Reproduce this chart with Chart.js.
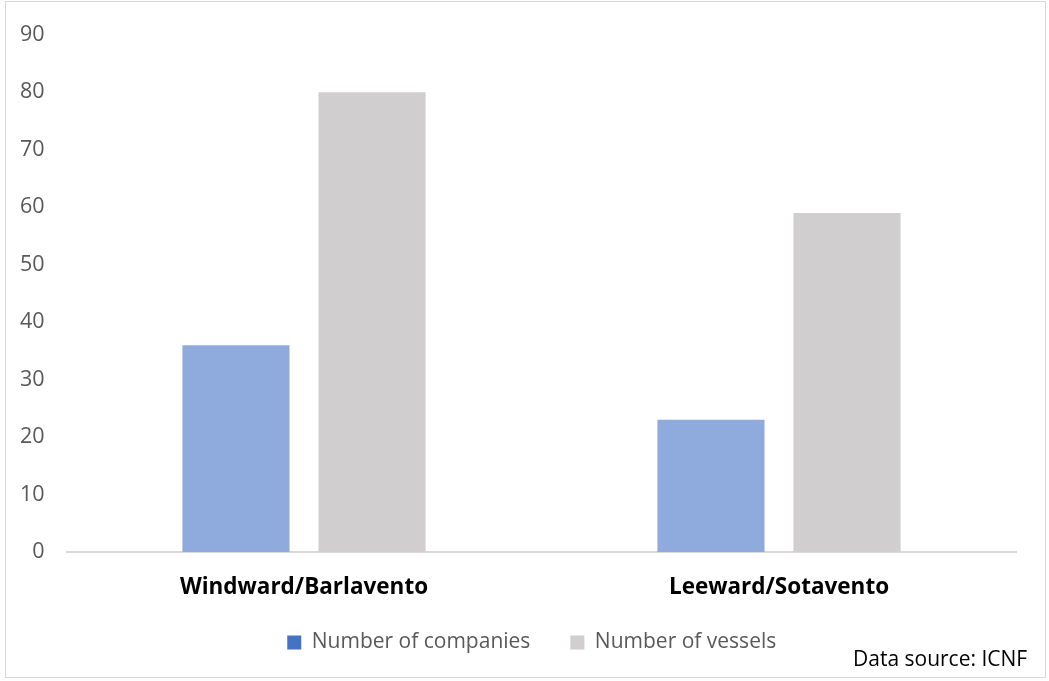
<!DOCTYPE html>
<html>
<head>
<meta charset="utf-8">
<script src="https://cdn.jsdelivr.net/npm/chart.js@4.4.0/dist/chart.umd.min.js"></script>
<style>
    html, body { margin: 0; padding: 0; background: #fff; }
    #wrap { position: relative; width: 1049px; height: 681px; }
    #frame {
        position: absolute; left: 5px; top: 1px; width: 1039px; height: 675px;
        border: 1px solid #d9d9d9; pointer-events: none;
    }
    #source {
        position: absolute; left: 853px; top: 644px;
        font-family: "Open Sans", sans-serif; font-size: 21px; color: #000;
        white-space: nowrap;
    }
</style>
</head>
<body>
<div id="wrap">
    <canvas id="chart" width="1049" height="681"></canvas>
    <div id="frame"></div>
    <div id="source">Data source: ICNF</div>
</div>
<script>
// Chart data
const regions = ['Windward/Barlavento', 'Leeward/Sotavento'];
const companies = [36, 23];
const vessels = [80, 59];
const yTicks = [0, 10, 20, 30, 40, 50, 60, 70, 80, 90];

const legendColors = ['#4472c4', '#d0cece'];

// Excel centres the legend a bit right of the canvas centre, and a bit higher
const legendShift = {
    id: 'legendShift',
    afterLayout(chart) {
        const lg = chart.legend;
        if (!lg) return;
        lg.left = 47;
        lg.top -= 4;
        lg.bottom -= 4;
    }
};

function initChart() {
    const ctx = document.getElementById('chart').getContext('2d');
    new Chart(ctx, {
        type: 'bar',
        data: {
            labels: regions,
            datasets: [{
                label: 'Number of companies',
                data: companies,
                backgroundColor: '#8faadc'
            }, {
                label: 'Number of vessels',
                data: vessels,
                backgroundColor: '#d0cece'
            }]
        },
        options: {
            responsive: false,
            animation: false,
            categoryPercentage: 0.573,
            barPercentage: 0.787,
            layout: {
                padding: { left: 5, right: 32.5, top: 31, bottom: 14 }
            },
            plugins: {
                tooltip: { enabled: false },
                legend: {
                    position: 'bottom',
                    labels: {
                        boxWidth: 14,
                        boxHeight: 14,
                        padding: 40,
                        color: '#595959',
                        font: { family: 'Open Sans', size: 21 },
                        generateLabels: function (chart) {
                            return chart.data.datasets.map((ds, i) => ({
                                text: ds.label,
                                fillStyle: legendColors[i],
                                strokeStyle: legendColors[i],
                                lineWidth: 0,
                                fontColor: '#595959',
                                datasetIndex: i
                            }));
                        }
                    }
                }
            },
            scales: {
                x: {
                    grid: { display: false, drawTicks: false },
                    border: { display: true, color: '#d9d9d9', width: 2 },
                    ticks: {
                        padding: 22,
                        color: '#000',
                        font: { family: 'Open Sans', size: 22.5, weight: 'bold' }
                    },
                    afterFit: function (scale) { scale.height = 44; }
                },
                y: {
                    min: 0,
                    max: 90,
                    afterBuildTicks: function (scale) {
                        scale.ticks = yTicks.map(v => ({ value: v }));
                    },
                    grid: { display: false, drawTicks: false },
                    border: { display: false },
                    ticks: {
                        padding: 22,
                        color: '#595959',
                        font: { family: 'Open Sans', size: 21.5 }
                    },
                    afterFit: function (scale) { scale.width = 61.5; }
                }
            }
        },
        plugins: [legendShift]
    });
}

document.addEventListener('DOMContentLoaded', function () {
    initChart();
});
</script>
</body>
</html>
